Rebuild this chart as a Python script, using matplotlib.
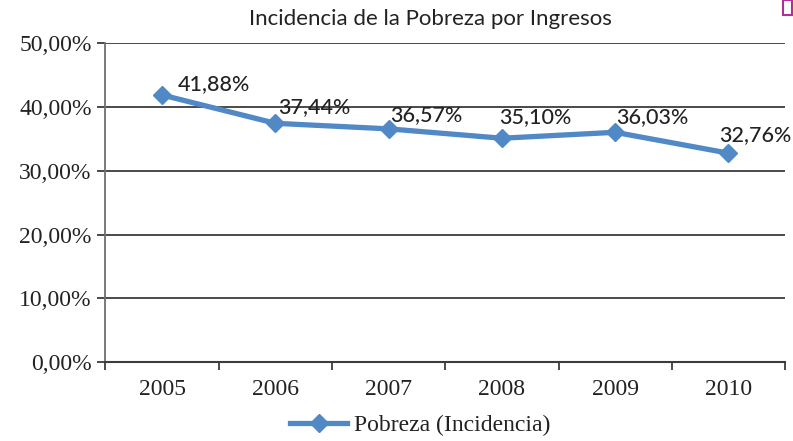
import matplotlib.pyplot as plt
from matplotlib.patches import Rectangle

years = ['2005', '2006', '2007', '2008', '2009', '2010']
pobreza = [41.88, 37.44, 36.57, 35.10, 36.03, 32.76]
y_ticks = [0, 10, 20, 30, 40, 50]

title = 'Incidencia de la Pobreza por Ingresos'
serie = 'Pobreza (Incidencia)'

azul = '#5089c6'
gris = '#3c3c3c'

fig = plt.figure(figsize=(7.93, 4.41), dpi=100)
ax = fig.add_axes([0.133, 0.179, 0.857, 0.723])

x = list(range(len(years)))
ax.plot(x, pobreza, color=azul, lw=3.8, marker='D', ms=9.5, mec=azul, mfc=azul,
        label=serie, zorder=3)

# etiquetas de datos (desplazamiento en puntos)
offs = [(37, 8), (28, 12), (27, 10), (24, 15), (27, 11), (19, 13)]
for xi, v, (dx, dy) in zip(x, pobreza, offs):
    ax.annotate(f'{v:.2f}%'.replace('.', ','), (xi, v), xytext=(dx, dy),
                textcoords='offset points', ha='center', va='center',
                fontsize=15.5, family='Lato', weight='medium', color='#222222')

ax.set_xlim(-0.5, len(years) - 0.5)
ax.set_ylim(0, 50)
ax.set_yticks(y_ticks)
ax.set_yticklabels([f'{t},00%' for t in y_ticks], family='Liberation Serif',
                   fontsize=17, color='#222222')
ax.yaxis.grid(True, color=gris, lw=1.3)
ax.set_axisbelow(True)

ax.set_xticks(x)
ax.set_xticklabels(years, family='Liberation Serif', fontsize=17, color='#222222')
ax.set_xticks([i - 0.5 for i in range(len(years) + 1)], minor=True)
ax.tick_params(axis='x', which='major', length=0, pad=12)
ax.tick_params(axis='x', which='minor', length=6, width=1.3, color=gris)
ax.tick_params(axis='y', length=6, width=1.3, color=gris, pad=4)

for s in ['top', 'right']:
    ax.spines[s].set_visible(False)
ax.spines['left'].set_color('#707070')
ax.spines['left'].set_linewidth(1.3)
ax.spines['bottom'].set_color(gris)
ax.spines['bottom'].set_linewidth(1.5)

fig.text(0.543, 0.958, title, ha='center', va='center', fontsize=16,
         family='Lato', color='#222222')

leg = fig.legend(loc='center', bbox_to_anchor=(0.53, 0.035), frameon=False,
                 prop={'family': 'Liberation Serif', 'size': 17}, handlelength=2.4,
                 handletextpad=0.3)
for t in leg.get_texts():
    t.set_color('#222222')

fig.patches.append(Rectangle((0.988, 0.967), 0.011, 0.032, transform=fig.transFigure,
                             fill=False, ec='#b0309a', lw=1.5))

fig.savefig('out.png', dpi=100)
